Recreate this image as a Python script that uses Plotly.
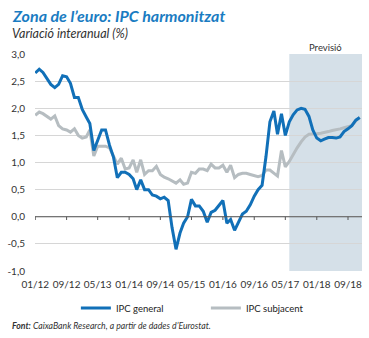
import pandas as pd
import plotly.graph_objects as go

# ---- data ----
months = pd.date_range("2012-01-01", "2018-12-01", freq="MS")

ipc_general = [
    2.65, 2.72, 2.66, 2.56, 2.44, 2.38, 2.44, 2.60, 2.58, 2.46, 2.20, 2.20,
    1.98, 1.84, 1.72, 1.22, 1.40, 1.60, 1.60, 1.32, 1.10, 0.72, 0.82, 0.82,
    0.78, 0.70, 0.50, 0.68, 0.50, 0.50, 0.40, 0.38, 0.33, 0.36, 0.30, -0.20,
    -0.60, -0.30, -0.12, 0.00, 0.32, 0.20, 0.20, 0.10, -0.10, 0.08, 0.12, 0.22,
    0.30, -0.12, -0.05, -0.25, -0.10, 0.05, 0.10, 0.22, 0.38, 0.50, 0.58, 1.10,
    1.75, 1.95, 1.52, 1.90, 1.50, 1.75, 1.88, 1.97, 2.00, 1.98, 1.85, 1.60,
    1.45, 1.40, 1.43, 1.46, 1.46, 1.45, 1.47, 1.57, 1.62, 1.68, 1.78, 1.83,
]
ipc_subjacent = [
    1.87, 1.93, 1.90, 1.85, 1.80, 1.86, 1.68, 1.62, 1.60, 1.56, 1.62, 1.50,
    1.45, 1.47, 1.60, 1.12, 1.30, 1.30, 1.30, 1.27, 1.12, 0.97, 1.08, 0.88,
    0.90, 1.05, 0.82, 1.05, 0.78, 0.85, 0.85, 0.93, 0.78, 0.73, 0.70, 0.66,
    0.62, 0.68, 0.60, 0.62, 0.82, 0.80, 0.88, 0.88, 0.85, 0.97, 0.90, 0.90,
    0.95, 0.82, 0.95, 0.72, 0.78, 0.80, 0.80, 0.78, 0.76, 0.74, 0.76, 0.86,
    0.86, 0.80, 0.75, 1.22, 0.92, 1.02, 1.15, 1.27, 1.38, 1.47, 1.52, 1.52,
    1.53, 1.54, 1.55, 1.57, 1.59, 1.60, 1.62, 1.64, 1.66, 1.68, 1.77, 1.83,
]

x_tick_dates = ["2012-01-01", "2012-09-01", "2013-05-01", "2014-01-01", "2014-09-01",
                "2015-05-01", "2016-01-01", "2016-09-01", "2017-05-01", "2018-01-01",
                "2018-09-01"]
x_tick_labels = ["01/12", "09/12", "05/13", "01/14", "09/14", "05/15", "01/16",
                 "09/16", "05/17", "01/18", "09/18"]
y_tick_vals = [-1.0, -0.5, 0.0, 0.5, 1.0, 1.5, 2.0, 2.5, 3.0]
y_tick_labels = ["-1,0", "-0,5", "0,0", "0,5", "1,0", "1,5", "2,0", "2,5", "3,0"]

forecast_start = "2017-06-01"
x_range = ["2011-12-30", "2018-12-19"]

BLUE = "#1170b8"
GRAY = "#b6bdc1"
FONT = "Lato"

fig = go.Figure()
fig.add_trace(go.Scatter(x=months, y=ipc_subjacent, mode="lines", name="IPC subjacent",
                         line=dict(color=GRAY, width=3)))
fig.add_trace(go.Scatter(x=months, y=ipc_general, mode="lines", name="IPC general",
                         line=dict(color=BLUE, width=3)))

shapes = [dict(type="rect", xref="x", yref="paper", x0=forecast_start, x1=x_range[1],
               y0=0, y1=1, fillcolor="#d5e0e8", line=dict(width=0), layer="below")]
for d in x_tick_dates:
    shapes.append(dict(type="line", xref="x", yref="y", x0=d, x1=d, y0=0, y1=-0.06,
                       line=dict(color="#555555", width=1)))
shapes.append(dict(type="line", xref="paper", yref="y", x0=0, x1=1, y0=0, y1=0,
                   line=dict(color="#555555", width=1.2)))

fig.update_layout(
    width=369, height=338,
    margin=dict(l=26, r=7, t=54, b=67),
    paper_bgcolor="white", plot_bgcolor="white",
    font=dict(family=FONT, color="#333333", size=10),
    showlegend=True,
    legend=dict(orientation="h", x=0.125, y=-0.17, xanchor="left", yanchor="middle",
                font=dict(size=9.5, color="#222222"), traceorder="reversed",
                entrywidth=85, entrywidthmode="pixels", bgcolor="rgba(0,0,0,0)"),
    shapes=shapes,
    annotations=[
        dict(text="<b><i>Zona de l’euro: IPC harmonitzat</i></b>", xref="paper", yref="paper",
             x=-26/336, y=1 + (54 - 15) / 217, xanchor="left", yanchor="middle",
             showarrow=False, font=dict(size=16, color="#1a7cc2", family=FONT)),
        dict(text="<i>Variació interanual (%)</i>", xref="paper", yref="paper",
             x=-26/336, y=1 + (54 - 34) / 217, xanchor="left", yanchor="middle",
             showarrow=False, font=dict(size=12.5, color="#333333", family=FONT)),
        dict(text="Previsió", xref="paper", yref="paper",
             x=(324 - 26) / 336, y=1 + (54 - 47) / 217, xanchor="center", yanchor="middle",
             showarrow=False, font=dict(size=9.5, color="#333333", family=FONT)),
        dict(text="<b><i>Font:</i></b><i> CaixaBank Research, a partir de dades d’Eurostat.</i>",
             xref="paper", yref="paper", x=-26/336, y=-(325 - 271) / 217,
             xanchor="left", yanchor="middle", showarrow=False,
             font=dict(size=8.7, color="#333333", family=FONT)),
    ],
)
fig.update_xaxes(type="date", range=x_range, tickvals=x_tick_dates, ticktext=x_tick_labels,
                 showgrid=False, zeroline=False, showline=False, ticks="",
                 ticklabelstandoff=6,
                 tickfont=dict(size=10, color="#333333"))
fig.update_yaxes(range=[-1, 3], tickvals=y_tick_vals, ticktext=y_tick_labels,
                 showgrid=True, gridcolor="#d6d6d6", gridwidth=1, zeroline=False,
                 showline=False, ticks="", ticklabelstandoff=9,
                 tickfont=dict(size=10, color="#333333"))

fig.write_html("out.html")
